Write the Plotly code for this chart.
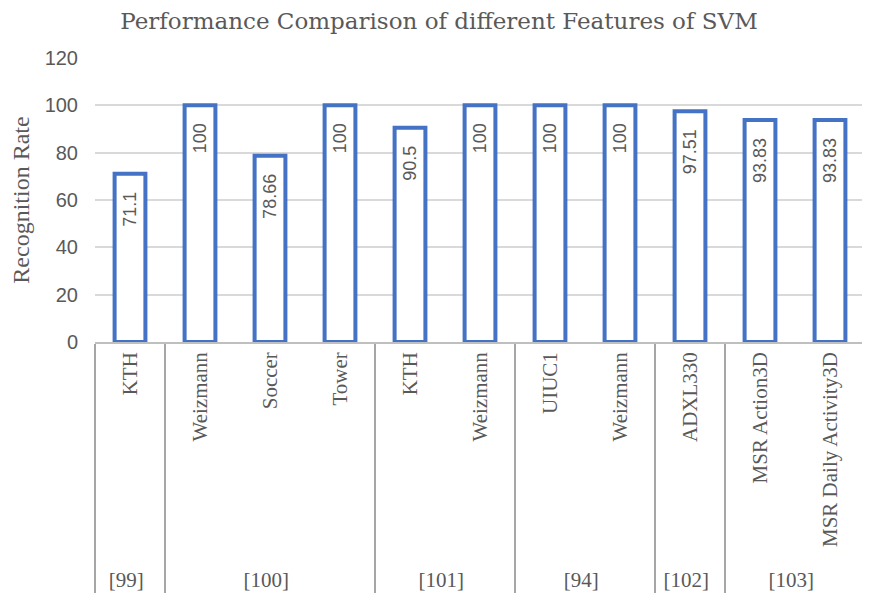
import plotly.graph_objects as go

groups = ["[99]", "[100]", "[100]", "[100]", "[101]", "[101]", "[94]", "[94]", "[102]", "[103]", "[103]"]
# the [94] "Weizmann" carries a leading non-breaking space so that plotly keeps the original order
datasets = ["KTH", "Weizmann", "Soccer", "Tower", "KTH", "Weizmann", "UIUC1", "\u00a0Weizmann",
            "ADXL330", "MSR Action3D", "MSR Daily Activity3D"]
values = [71.1, 100, 78.66, 100, 90.5, 100, 100, 100, 97.51, 93.83, 93.83]
value_labels = ["71.1", "100", "78.66", "100", "90.5", "100", "100", "100", "97.51", "93.83", "93.83"]
y_ticks = [0, 20, 40, 60, 80, 100, 120]

GREY = "#595959"
BLUE = "#4472C4"

fig = go.Figure()
fig.add_trace(go.Bar(
    x=[groups, datasets],
    y=values,
    text=value_labels,
    texttemplate="%{text}\u00a0\u00a0\u00a0",
    textposition="inside",
    insidetextanchor="end",
    textangle=-90,
    constraintext="none",
    textfont=dict(family="Liberation Sans", size=18, color=GREY),
    marker=dict(color="white", line=dict(color=BLUE, width=4)),
    cliponaxis=False,
))

fig.update_layout(
    width=862, height=592,
    paper_bgcolor="white", plot_bgcolor="white",
    margin=dict(l=87, r=5, t=50, b=258),
    bargap=0.56,
    showlegend=False,
    title=dict(text="Performance Comparison of different Features of SVM",
               x=0.5, xanchor="center", y=0.978, yanchor="middle", yref="container",
               font=dict(family="DejaVu Serif", size=23, color=GREY)),
)

fig.update_yaxes(
    range=[0, 120], tickvals=y_ticks, ticktext=[str(v) for v in y_ticks],
    showgrid=True, gridcolor="#D9D9D9", gridwidth=1.5,
    zeroline=False, showline=False, ticks="",
    ticklabelstandoff=16,
    tickfont=dict(family="Liberation Sans", size=20, color=GREY),
    title=dict(text="Recognition Rate", standoff=12,
               font=dict(family="Liberation Serif", size=24, color=GREY)),
)

fig.update_xaxes(
    type="multicategory",
    tickangle=-90,
    showline=True, linecolor="#BFBFBF", linewidth=1.5,
    showdividers=True, dividercolor="#A6A6A6", dividerwidth=1.5,
    ticks="",
    tickfont=dict(family="Liberation Serif", size=21, color=GREY),
    automargin=False,
)

fig.write_html("out.html")
